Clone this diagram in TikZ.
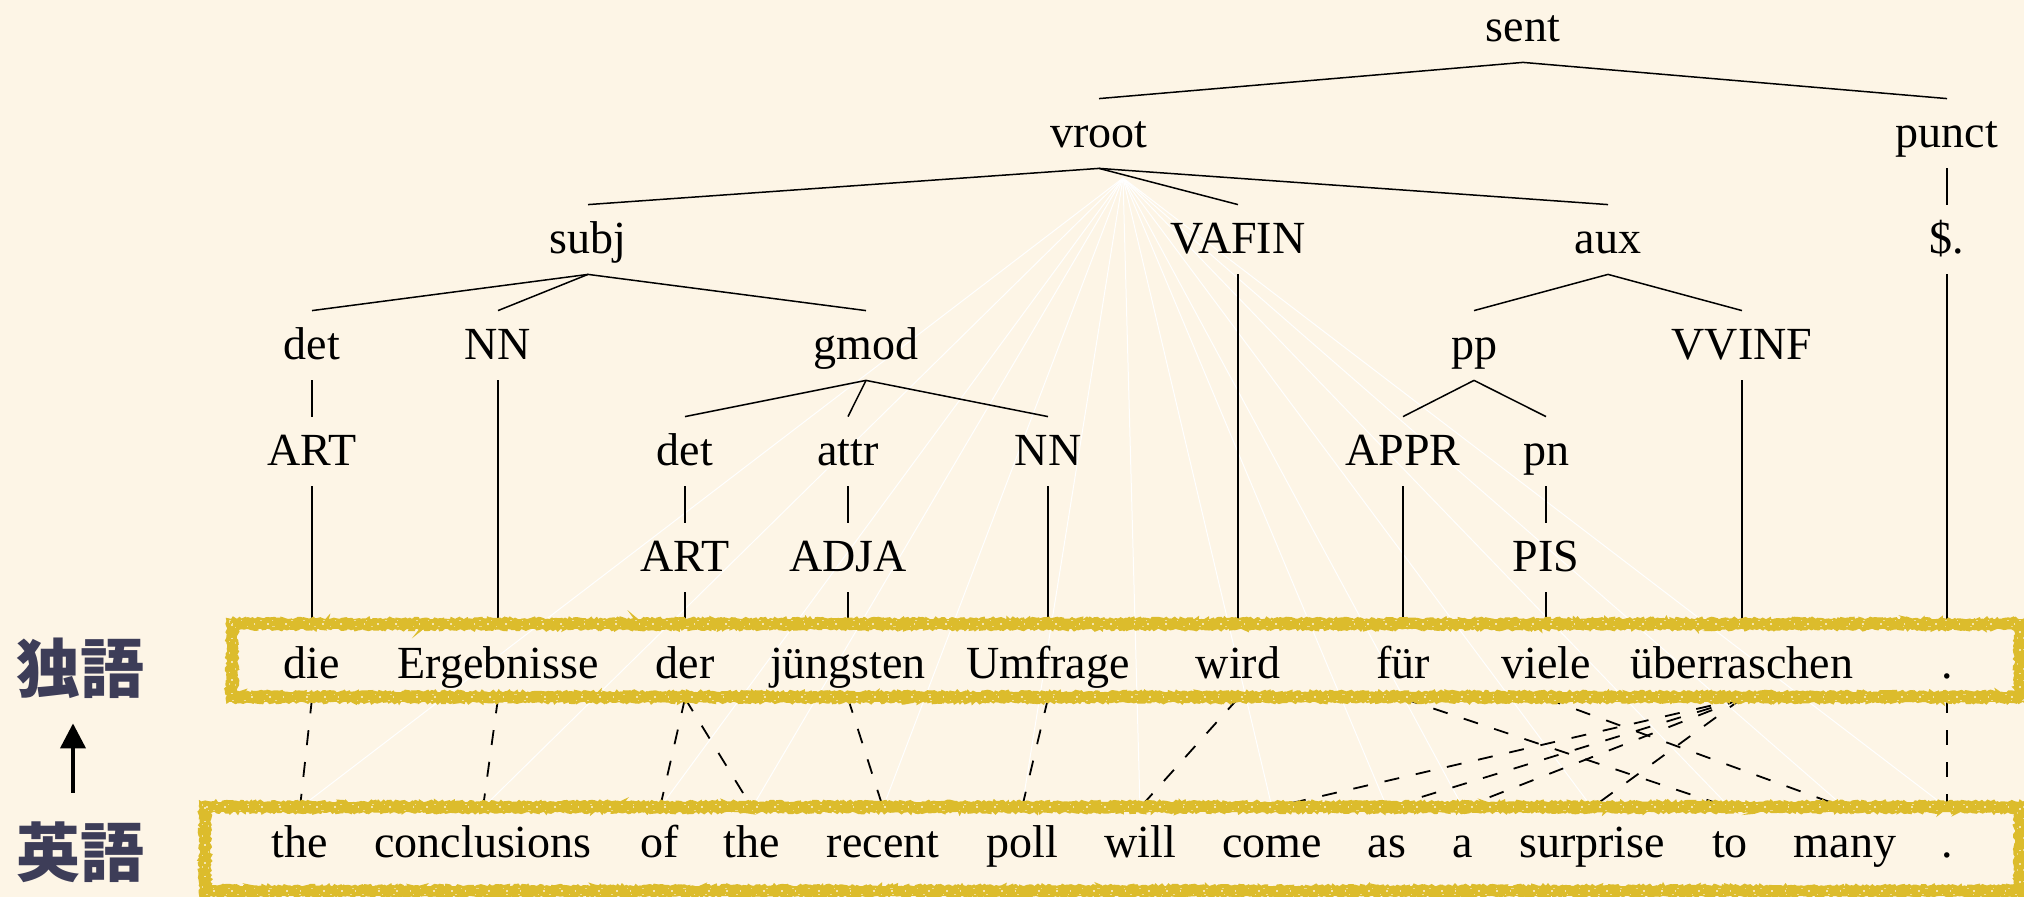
\documentclass[tikz,border=0pt]{standalone}
\usepackage{fontspec}
\setmainfont{Liberation Serif}
\newfontfamily\jpfont{Noto Sans CJK JP}
\usetikzlibrary{decorations.pathmorphing,arrows.meta}
\definecolor{paper}{HTML}{FDF5E6}
\definecolor{chalk}{HTML}{DCBC2C}
\definecolor{langtext}{HTML}{3D3D58}
\pgfdeclarelayer{back}
\pgfdeclarelayer{lines}
\pgfdeclarelayer{boxes}
\pgfsetlayers{back,lines,boxes,main}

% chalk-style frame: a solid core stroke with jittered strokes along both edges
\newcommand\roughbox[4]{%
  \draw[chalk, line width=4.6pt] (#1,#2) rectangle (#3,#4);
  \draw[chalk, line width=1.4pt, rough] (#1-4.5,#2-4.5) rectangle (#3+4.5,#4+4.5);
  \draw[chalk, line width=1.4pt, rough] (#1+4.5,#2+4.5) rectangle (#3-4.5,#4-4.5);
  \draw[paper, line width=0.6pt, speck] (#1,#2) rectangle (#3,#4);
  \draw[paper, line width=0.5pt, speck2] (#1-3,#2-3) rectangle (#3+3,#4+3);
  \draw[paper, line width=0.5pt, speck3] (#1+3,#2+3) rectangle (#3-3,#4-3);}

\begin{document}
\begin{tikzpicture}[x=0.5pt,y=-0.5pt,
  word/.style={font=\fontsize{23}{27}\selectfont, inner sep=3pt,
               text height=21.5pt, text depth=7pt, anchor=base},
  lang/.style={font=\jpfont\bfseries\fontsize{32}{36}\selectfont, text=langtext,
               inner sep=0pt, text height=28.2pt, text depth=3.8pt},
  branch/.style={line width=0.75pt, black},
  align/.style={line width=0.9pt, black, dash pattern=on 7.5pt off 8.5pt},
  ray/.style={white, line width=0.5pt},
  rough/.style={decorate, decoration={random steps, segment length=1pt, amplitude=0.7pt}},
  speck/.style={opacity=0.7, dash pattern=on 0.8pt off 6pt on 0.5pt off 11pt on 1.2pt off 8pt},
  speck2/.style={opacity=0.6, dash pattern=on 1pt off 9pt on 0.6pt off 5pt},
  speck3/.style={opacity=0.5, dash pattern=on 0.6pt off 7pt on 1.1pt off 12pt},
]
\pgfmathsetseed{7}
\useasboundingbox (0,0) rectangle (2024,897);
\begin{pgfonlayer}{back}
  \fill[paper] (0,0) rectangle (2024,897);
\end{pgfonlayer}

% ---- tree labels
\node[word] (sent)   at (1523,42)  {sent};
\node[word] (vroot)  at (1099,148) {vroot};
\node[word] (punct)  at (1947,148) {punct};
\node[word] (subj)   at (588,254)  {subj};
\node[word] (vafin)  at (1238,254) {VAFIN};
\node[word] (aux)    at (1608,254) {aux};
\node[word] (dollar) at (1947,254) {\$.};
\node[word] (det)    at (312,360)  {det};
\node[word] (nn)     at (498,360)  {NN};
\node[word] (gmod)   at (866,360)  {gmod};
\node[word] (pp)     at (1474,360) {pp};
\node[word] (vvinf)  at (1742,360) {VVINF};
\node[word] (art)    at (312,466)  {ART};
\node[word] (detb)   at (685,466)  {det};
\node[word] (attr)   at (848,466)  {attr};
\node[word] (nnb)    at (1048,466) {NN};
\node[word] (appr)   at (1403,466) {APPR};
\node[word] (pn)     at (1546,466) {pn};
\node[word] (artb)   at (685,572)  {ART};
\node[word] (adja)   at (848,572)  {ADJA};
\node[word] (pis)    at (1546,572) {PIS};

% ---- German sentence
\node[word] (g1)  at (312,678)  {die};
\node[word] (g2)  at (498,678)  {Ergebnisse};
\node[word] (g3)  at (685,678)  {der};
\node[word] (g4)  at (848,678)  {jüngsten};
\node[word] (g5)  at (1048,678) {Umfrage};
\node[word] (g6)  at (1238,678) {wird};
\node[word] (g7)  at (1403,678) {für};
\node[word] (g8)  at (1546,678) {viele};
\node[word] (g9)  at (1742,678) {überraschen};
\node[word] (g10) at (1947,678) {.};

% ---- English sentence
\node[word] (e1)  at (300,857)  {the};
\node[word] (e2)  at (483,857)  {conclusions};
\node[word] (e3)  at (660,857)  {of};
\node[word] (e4)  at (752,857)  {the};
\node[word] (e5)  at (883,857)  {recent};
\node[word] (e6)  at (1022,857) {poll};
\node[word] (e7)  at (1140,857) {will};
\node[word] (e8)  at (1272,857) {come};
\node[word] (e9)  at (1387,857) {as};
\node[word] (e10) at (1463,857) {a};
\node[word] (e11) at (1592,857) {surprise};
\node[word] (e12) at (1730,857) {to};
\node[word] (e13) at (1845,857) {many};
\node[word] (e14) at (1947,857) {.};

% ---- language labels
\node[lang] (de) at (81,668) {独語};
\node[lang] (en) at (81,852) {英語};
\draw[-{Triangle[width=12.5pt,length=12.5pt]}, line width=2pt]
  ([xshift=-4pt,yshift=13.5pt]en.north) -- ([xshift=-4pt,yshift=-11.5pt]de.south);

% ---- white fan from the root down to every English word
\coordinate (fan) at (1123,178);
\begin{pgfonlayer}{back}
  \foreach \e in {e1,e2,e3,e4,e5,e6,e7,e8,e9,e10,e11,e12,e13,e14}
    \draw[ray] (fan) -- (\e.north);
\end{pgfonlayer}

\begin{pgfonlayer}{lines}
  % tree branches
  \foreach \p/\c in {sent/vroot, sent/punct, vroot/subj, vroot/vafin, vroot/aux,
      punct/dollar, subj/det, subj/nn, subj/gmod, aux/pp, aux/vvinf,
      det/art, nn/g2, gmod/detb, gmod/attr, gmod/nnb, pp/appr, pp/pn,
      vvinf/g9, art/g1, detb/artb, attr/adja, nnb/g5, vafin/g6, appr/g7,
      pn/pis, dollar/g10, artb/g3, adja/g4, pis/g8}
    \draw[branch] (\p.south) -- (\c.north);
  % word alignments
  \foreach \g/\e in {g1/e1, g2/e2, g3/e3, g3/e4, g4/e5, g5/e6, g6/e7, g7/e12,
      g8/e13, g9/e8, g9/e9, g9/e10, g9/e11, g10/e14}
    \draw[align] (\g.south) -- (\e.north);
\end{pgfonlayer}

% ---- chalk frames round the two sentences
\begin{pgfonlayer}{boxes}
  \roughbox{232}{624}{2020}{697}
  \roughbox{205}{807}{2020}{891}
\end{pgfonlayer}
\end{tikzpicture}
\end{document}
